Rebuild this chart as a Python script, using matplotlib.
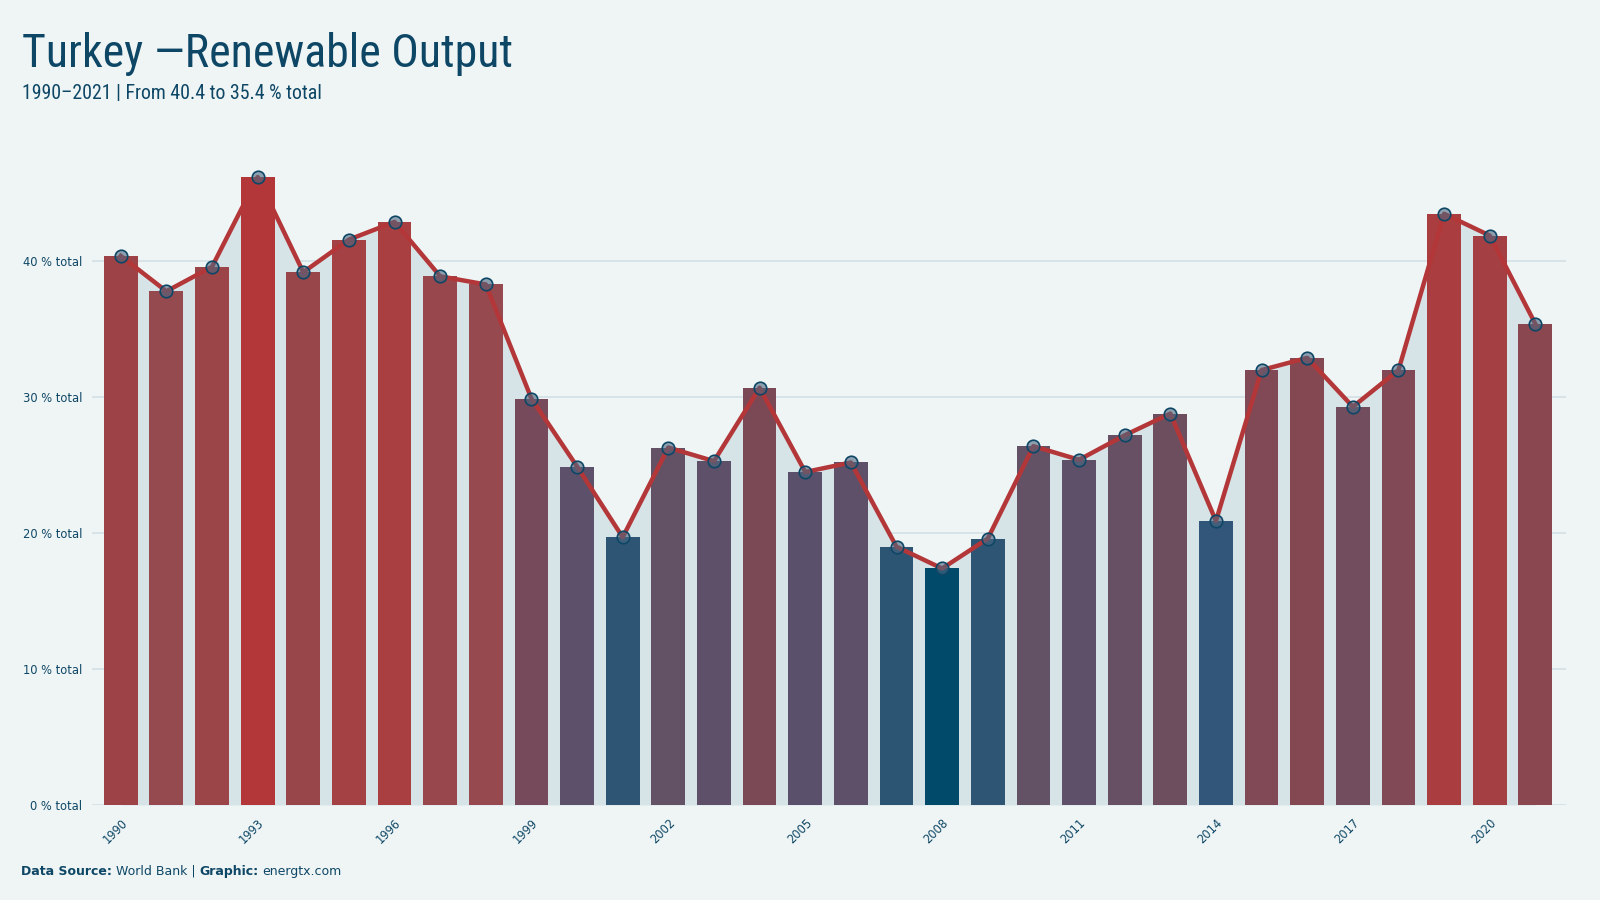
import matplotlib
matplotlib.use("Agg")
import matplotlib.pyplot as plt
import numpy as np
from matplotlib.colors import LinearSegmentedColormap
from matplotlib import font_manager

years = list(range(1990, 2022))
values = [40.4, 37.8, 39.6, 46.2, 39.2, 41.6, 42.9, 38.9, 38.3, 29.9,
          24.9, 19.7, 26.3, 25.3, 30.7, 24.5, 25.2, 19.0, 17.4, 19.6,
          26.4, 25.4, 27.2, 28.8, 20.9, 32.0, 32.9, 29.3, 32.0, 43.5,
          41.9, 35.4]
ytick_vals = [0, 10, 20, 30, 40]
ytick_labels = [f"{v} % total" for v in ytick_vals]
title = "Turkey \u2014Renewable Output"
subtitle = "1990\u20132021 | From 40.4 to 35.4 % total"

BG = "#eff5f5"
NAVY = "#0e4766"
RED = "#b33739"
FILL = "#d6e3e7"
GRID = "#d3e0e3"

# pick a condensed font if one is installed
names = {f.name for f in font_manager.fontManager.ttflist}
cond = None
for cand in ["Ubuntu Condensed", "Liberation Sans Narrow", "Roboto Condensed",
             "Open Sans Condensed", "DejaVu Sans Condensed"]:
    if cand in names:
        cond = cand
        break
cond_stretch = "normal"
if cond is None:
    cond = "DejaVu Sans"
    cond_stretch = "condensed"

cmap = LinearSegmentedColormap.from_list("br", [
    (0.0, "#024a6a"), (0.055, "#2c5574"), (0.08, "#2e5574"), (0.12, "#30567a"),
    (0.25, "#5b506b"), (0.31, "#635166"), (0.39, "#6c4f60"),
    (0.46, "#7b4856"), (0.5, "#814855"), (0.62, "#8a4750"),
    (0.71, "#954a4f"), (0.8, "#9d4347"), (0.88, "#a83f41"),
    (1.0, "#b33739")])
vals = np.array(values)
t = (vals - vals.min()) / (vals.max() - vals.min())
colors = [cmap(x) for x in t]

fig = plt.figure(figsize=(16, 9), dpi=100, facecolor=BG)
ax = fig.add_axes([0.0575, 0.1056, 0.9215, 0.755])
ax.set_facecolor(BG)

x = np.arange(len(years))
ax.fill_between(x, vals, 0, color=FILL, zorder=1, linewidth=0)
ax.bar(x, vals, width=0.74, color=colors, zorder=2, linewidth=0)
ax.plot(x, vals, color=RED, linewidth=3.2, zorder=3, solid_joinstyle="round")
ax.plot(x, vals, linestyle="none", marker="o", markersize=9,
        markerfacecolor=(0.29, 0.40, 0.50, 0.6), markeredgecolor=NAVY,
        markeredgewidth=1.2, zorder=4)

ax.set_xlim(-0.63, 31.68)
ax.set_ylim(0, 50)
ax.set_yticks(ytick_vals)
ax.set_yticklabels(ytick_labels)
ax.yaxis.grid(True, color=GRID, linewidth=1.2, zorder=0)
ax.set_axisbelow(True)
ax.set_xticks(x[::3])
ax.set_xticklabels([str(y) for y in years[::3]], rotation=45,
                   ha="right", rotation_mode="anchor")
ax.tick_params(axis="both", length=0, colors=NAVY, labelsize=8.3)
ax.tick_params(axis="y", pad=7)
ax.tick_params(axis="x", pad=8)
for s in ax.spines.values():
    s.set_visible(False)

tt = fig.text(0.014, 0.925, title, fontsize=33, color=NAVY,
              family=[cond, "DejaVu Sans"], fontstretch=cond_stretch,
              va="baseline")
st = fig.text(0.014, 0.89, subtitle, fontsize=14.3, color=NAVY,
              family=[cond, "DejaVu Sans"], fontstretch=cond_stretch,
              va="baseline")

fig.canvas.draw()
r = fig.canvas.get_renderer()
# fit title/subtitle to reference widths if font is too wide
target_title = 493 / 1600 * fig.bbox.width
target_sub = 302 / 1600 * fig.bbox.width
w = tt.get_window_extent(r).width
if w > target_title * 1.03:
    tt.set_fontsize(33 * target_title / w)
w = st.get_window_extent(r).width
if w > target_sub * 1.03:
    st.set_fontsize(14.3 * target_sub / w)

fy = 0.028
fs = 9
t1 = fig.text(0.013, fy, "Data Source:", fontsize=fs, color=NAVY,
              weight="bold", va="baseline")
bb = t1.get_window_extent(r)
x2 = (bb.x1 + 4) / fig.bbox.width
t2 = fig.text(x2, fy, "World Bank |", fontsize=fs, color=NAVY, va="baseline")
bb = t2.get_window_extent(r)
x3 = (bb.x1 + 4) / fig.bbox.width
t3 = fig.text(x3, fy, "Graphic:", fontsize=fs, color=NAVY, weight="bold",
              va="baseline")
bb = t3.get_window_extent(r)
x4 = (bb.x1 + 4) / fig.bbox.width
fig.text(x4, fy, "energtx.com", fontsize=fs, color=NAVY, va="baseline")

fig.savefig("out.png", dpi=100, facecolor=BG)
